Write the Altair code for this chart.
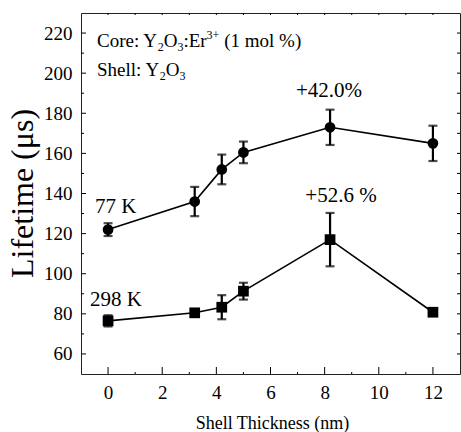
import altair as alt
import pandas as pd

# Shell thickness (nm) and luminescence lifetime (us) with error bars
thickness = [0.0, 3.2, 4.2, 5.0, 8.2, 12.0]
life_77k = [122.0, 136.0, 152.0, 160.5, 173.0, 165.0]
err_77k = [3.2, 7.3, 7.4, 5.4, 8.8, 8.8]
life_298k = [76.5, 80.5, 83.3, 91.3, 117.0, 80.8]
err_298k = [2.8, 1.5, 6.0, 4.2, 13.3, 1.5]
series_names = ["77 K", "298 K"]

# Axis tick values
x_major = [0, 2, 4, 6, 8, 10, 12]
x_minor = [1, 3, 5, 7, 9, 11]
x_all = list(range(0, 13))
y_major = [60, 80, 100, 120, 140, 160, 180, 200, 220]
y_minor = [70, 90, 110, 130, 150, 170, 190, 210]

W, H = 379, 361
FONT = "Liberation Serif"

rows = []
for name, life, err in [(series_names[0], life_77k, err_77k),
                        (series_names[1], life_298k, err_298k)]:
    for t, v, e in zip(thickness, life, err):
        rows.append({"series": name, "thickness": t, "lifetime": v, "err": e})
df = pd.DataFrame(rows)

xs = alt.Scale(domain=[-1, 13], nice=False, zero=False)
ys = alt.Scale(domain=[50, 230], nice=False, zero=False)

x_axis = alt.Axis(values=x_major, ticks=False, tickSize=0, domain=False, grid=False,
                  labelFont=FONT, labelFontSize=19, labelColor="black", labelPadding=9,
                  title="Shell Thickness (nm)", titleFont=FONT, titleFontSize=18,
                  titleFontWeight="normal", titleColor="black",
                  titleX=191, titleY=54, titleBaseline="alphabetic", titleAlign="center")
y_axis = alt.Axis(values=y_major, ticks=False, tickSize=0, domain=False, grid=False,
                  labelFont=FONT, labelFontSize=19, labelColor="black", labelPadding=9,
                  title="Lifetime (μs)", titleFont=FONT, titleFontSize=32,
                  titleFontWeight="normal", titleColor="black",
                  titleX=-49, titleY=180, titleBaseline="alphabetic", titleAlign="center")


def X(field):
    return alt.X(field, scale=xs, axis=x_axis, title="Shell Thickness (nm)")


def Y(field):
    return alt.Y(field, scale=ys, axis=y_axis, title="Lifetime (μs)")


base = alt.Chart(df).transform_calculate(
    lo="datum.lifetime - datum.err", hi="datum.lifetime + datum.err"
)

lines = base.mark_line(color="black", strokeWidth=1.6).encode(
    x=X("thickness:Q"), y=Y("lifetime:Q"), detail="series:N",
)

bars = base.mark_rule(color="black", strokeWidth=2.2).encode(
    x=X("thickness:Q"), y=Y("lo:Q"), y2="hi:Q",
)
cap_lo = base.mark_tick(color="black", orient="horizontal", size=9, thickness=2.2).encode(
    x=X("thickness:Q"), y=Y("lo:Q"),
)
cap_hi = base.mark_tick(color="black", orient="horizontal", size=9, thickness=2.2).encode(
    x=X("thickness:Q"), y=Y("hi:Q"),
)

points = base.mark_point(filled=True, opacity=1, color="black", size=115).encode(
    x=X("thickness:Q"), y=Y("lifetime:Q"),
    shape=alt.Shape("series:N", scale=alt.Scale(domain=series_names,
                                                 range=["circle", "square"]), legend=None),
)


def tick_layer(values, channel, p0, p1):
    """Inward-pointing axis ticks drawn as short rules."""
    d = alt.Chart(pd.DataFrame({"v": values}))
    if channel == "y":
        return d.mark_rule(color="black", strokeWidth=1).encode(
            y=Y("v:Q"), x=alt.value(p0), x2=alt.value(p1))
    return d.mark_rule(color="black", strokeWidth=1).encode(
        x=X("v:Q"), y=alt.value(p0), y2=alt.value(p1))


ticks = [
    tick_layer(y_major, "y", 0, 5),
    tick_layer(y_minor, "y", 0, 3),
    tick_layer(y_major + y_minor, "y", W - 3, W),
    tick_layer(x_major, "x", H, H - 7),
    tick_layer(x_minor, "x", H, H - 2),
    tick_layer(x_all, "x", 0, 2),
]


def label(text, x, y, size=20, align="left"):
    return alt.Chart(pd.DataFrame({"k": [0]})).mark_text(
        text=text, font=FONT, fontSize=size, color="black",
        align=align, baseline="alphabetic",
    ).encode(x=alt.value(x), y=alt.value(y))


# Composition text with sub/superscripts: Core: Y2O3:Er3+ (1 mol %)
f, s = 19, 12
cx, cy = 16, 33.7
core = [
    ("Core: Y", 0, 0, f),
    ("2", 60.7, 4, s),
    ("O", 66.7, 0, f),
    ("3", 80.4, 4, s),
    (":Er", 86.4, 0, f),
    ("3+", 109.6, -8, s),
    ("(1 mol %)", 127.2, 0, f),
]
sx, sy = 16, 63
shell = [
    ("Shell: Y", 0, 0, f),
    ("2", 62.8, 4, s),
    ("O", 68.8, 0, f),
    ("3", 82.5, 4, s),
]
texts = [label(t, cx + dx, cy + dy, sz) for t, dx, dy, sz in core]
texts += [label(t, sx + dx, sy + dy, sz) for t, dx, dy, sz in shell]
texts += [
    label("+42.0%", 248, 83.7, 21, "center"),
    label("+52.6 %", 260, 188.7, 21, "center"),
    label("77 K", 14, 200, 21),
    label("298 K", 9, 293, 21),
]

chart = alt.layer(lines, bars, cap_lo, cap_hi, points, *ticks, *texts).properties(
    width=W, height=H,
    autosize=alt.AutoSizeParams(type="none"),
    padding={"left": 81, "top": 13, "right": 1, "bottom": 58},
    background="white",
).configure_view(
    stroke="#222", strokeWidth=1
).configure_axis(
    labelFont=FONT, titleFont=FONT, labelFontSize=19, labelColor="black"
).configure_text(font=FONT)

chart.save("out.html", embed_options={"renderer": "svg", "actions": False})
